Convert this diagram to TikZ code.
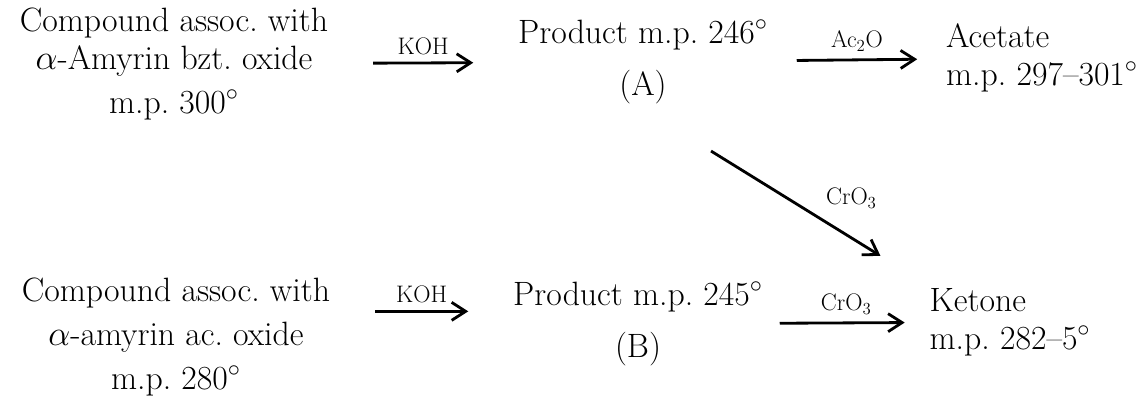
\documentclass[tikz,border=0pt]{standalone}
\usetikzlibrary{arrows.meta, positioning}

\begin{document}
\begin{tikzpicture}[
  x=0.025cm, y=-0.025cm,
  cpd/.style={align=center, font=\fontsize{24}{27}\selectfont},
  cpdl/.style={align=left, font=\fontsize{24}{27}\selectfont},
  reag/.style={font=\fontsize{17}{18}\selectfont, inner sep=5pt},
  rxn/.style={-{Straight Barb[length=3.5mm, width=4.5mm]}, line width=2pt}
]
\useasboundingbox (0,0) rectangle (1143,409);

% upper series
\node[cpd] (start1) at (174,64) {Compound assoc.\ with\\$\alpha$-Amyrin bzt.\ oxide\\[4pt]m.p.\ 300$^\circ$};
\node[cpd] (prodA) at (643,62) {Product m.p.\ 246$^\circ$\\[10pt](A)};
\node[cpdl] (acet) at (1042,58) {Acetate\\m.p.\ 297--301$^\circ$};

% lower series
\node[cpd] (start2) at (176,337) {Compound assoc.\ with\\[4pt]$\alpha$-amyrin ac.\ oxide\\[4pt]m.p.\ 280$^\circ$};
\node[cpd] (prodB) at (638,324) {Product m.p.\ 245$^\circ$\\[10pt](B)};
\node[cpdl] (keto) at (1010,322) {Ketone\\m.p.\ 282--5$^\circ$};

\draw[rxn, shorten <=1.0cm, shorten >=1.0cm] (start1) -- node[reag, above]{KOH} (prodA);
\draw[rxn, shorten <=0.6cm, shorten >=0.6cm] (prodA) -- node[reag, above]{Ac$_2$O} (acet);
\draw[rxn, shorten <=2.0cm, shorten >=1.3cm] (prodA.south) -- node[reag, above right, pos=0.62]{CrO$_3$} (keto.north west);

\draw[rxn, shorten <=1.0cm, shorten >=1.0cm] ([yshift=9pt]start2.east |- prodB) -- node[reag, above]{KOH} ([yshift=9pt]prodB.west);
\draw[rxn, shorten <=0.3cm, shorten >=0.5cm] (prodB) -- node[reag, above]{CrO$_3$} (keto);

\end{tikzpicture}
\end{document}
